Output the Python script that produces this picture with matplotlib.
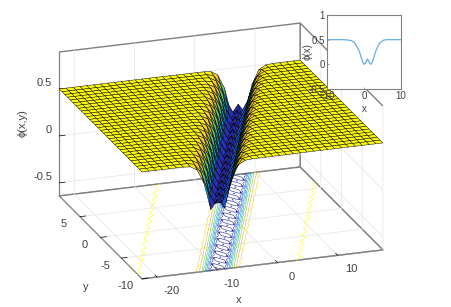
#!/usr/bin/env python3

import numpy as np
import matplotlib
matplotlib.use('Agg')
import matplotlib.pyplot as plt
from matplotlib.colors import LinearSegmentedColormap

plt.rcParams['font.family'] = ['Liberation Sans', 'DejaVu Sans']

# phi read across the trench, by distance in grid columns from its centre
# rows alternate: centre on a column, centre half way between two columns
phi_on_column = [0.11, 0.01, 0.30, 0.45, 0.492, 0.4975, 0.498, 0.4983, 0.4986,
                 0.4988, 0.499, 0.4994, 0.49965, 0.4998, 0.4999]
phi_off_column = [0.04, 0.17, 0.38, 0.48, 0.496, 0.4978, 0.4982, 0.4985, 0.4987,
                  0.4989, 0.4991, 0.4993, 0.4997, 0.4999]
phi_far = 0.5

n_cols = 36
n_rows = 31
x_range = (-22.5, 17.5)
y_range = (-10, 10)
z_range = (-0.64, 0.894)
first_centre = 11  # column of the trench centre in the y=-10 row

x_ticks = [-20, -10, 0, 10]
y_ticks = [-10, -5, 0, 5]
z_ticks = [-0.5, 0, 0.5]
x_tick_labels = ['-20', '-10', '0', '10']
y_tick_labels = ['-10', '-5', '0', '5']
z_tick_labels = ['-0.5', '0', '0.5']
contour_levels = [0.02, 0.05, 0.1, 0.15, 0.2, 0.25, 0.3, 0.35, 0.4, 0.45, 0.4995]

# inset curve
inset_x = [-10, -6, -4.5, -3.4, -2.6, -1.9, -1.2, -0.6, -0.2, 0.1, 0.5, 0.95, 1.4,
           1.8, 2.1, 2.5, 3.1, 3.8, 4.5, 5.3, 6.2, 8, 10]
inset_phi = [0.5, 0.5, 0.495, 0.48, 0.44, 0.36, 0.25, 0.1, 0.02, 0.0, 0.04, 0.11,
             0.04, 0.0, 0.02, 0.1, 0.25, 0.38, 0.45, 0.49, 0.5, 0.5, 0.5]

parula = LinearSegmentedColormap.from_list('parula', [
    (0.0, (0.13, 0.10, 0.42)), (0.18, (0.16, 0.20, 0.72)), (0.30, (0.08, 0.42, 0.88)),
    (0.42, (0.03, 0.62, 0.78)), (0.52, (0.10, 0.70, 0.64)), (0.62, (0.32, 0.75, 0.46)),
    (0.72, (0.62, 0.75, 0.28)), (0.82, (0.88, 0.73, 0.19)), (0.90, (0.99, 0.80, 0.16)),
    (0.96, (0.96, 0.90, 0.09)), (1.0, (1.0, 1.0, 0.0))])

TEXT = '#404040'
EDGE = '#808080'


def build_surface():
    x = np.linspace(x_range[0], x_range[1], n_cols)
    y = np.linspace(y_range[0], y_range[1], n_rows)
    z = np.full((n_rows, n_cols), phi_far)
    for k in range(n_rows):
        centre = first_centre + k / 2
        table = phi_off_column if k % 2 else phi_on_column
        for j in range(n_cols):
            i = int(abs(j - centre))
            if i < len(table):
                z[k, j] = table[i]
    X, Y = np.meshgrid(x, y)
    return X, Y, z


def style_axis(axis, ticks):
    axis.set_ticks(ticks)
    axis.set_tick_params(label1On=False)
    axis.set_pane_color((1, 1, 1, 1))
    axis.pane.set_edgecolor(EDGE)
    axis.line.set_color(EDGE)
    axis.line.set_linewidth(0.9)
    axis._axinfo['grid'].update(color='#e8e8e8', linewidth=0.6)
    axis._axinfo['tick'].update(inward_factor=0.0, outward_factor=0.3)
    axis._axinfo['tick']['linewidth'] = {True: 0.5, False: 0.5}
    axis._axinfo['tick']['color'] = EDGE


fig = plt.figure(figsize=(4.51, 3.07), dpi=100)
ax = fig.add_axes([67 / 451, 2 / 307, 300 / 451, 300 / 307], projection='3d')
ax.set_proj_type('ortho')
ax.view_init(elev=20.3, azim=-109.1)
ax.set_box_aspect((255, 253, 153.6), zoom=379 / 300)
ax.computed_zorder = False
ax.patch.set_alpha(0)

X, Y, Z = build_surface()
floor = ax.contour(X, Y, Z, levels=contour_levels, zdir='z', offset=z_range[0],
                   cmap=parula, vmin=0, vmax=0.5, linewidths=0.4, zorder=1)
surf = ax.plot_surface(X, Y, Z, cmap=parula, vmin=0, vmax=0.5, rstride=1, cstride=1,
                       edgecolor='k', linewidth=0.33, shade=False, zorder=2)
floor.set_clip_on(False)
surf.set_clip_on(False)

ax.set_xlim(*x_range)
ax.set_ylim(*y_range)
ax.set_zlim(*z_range)
style_axis(ax.xaxis, x_ticks)
style_axis(ax.yaxis, y_ticks)
style_axis(ax.zaxis, z_ticks)

# MATLAB puts the labels off the ticks in its own way, so place them in data space
label_style = dict(fontsize=8, color=TEXT, ha='center', va='center', zorder=5)
for t, s in zip(x_ticks, x_tick_labels):
    ax.text(t, y_range[0] - 3.4, z_range[0], s, **label_style)
for t, s in zip(y_ticks, y_tick_labels):
    ax.text(x_range[0] - 2.7, t, z_range[0] - 0.058, s, **label_style)
for t, s in zip(z_ticks, z_tick_labels):
    ax.text(x_range[0] - 1.2, y_range[1], t + 0.07, s, fontsize=8, color=TEXT,
            ha='right', va='center', zorder=5)
ax.text(-11.25, y_range[0] - 7, z_range[0], 'x', **label_style)
ax.text(x_range[0] - 9.47, y_range[0] - 0.27, z_range[0], 'y', **label_style)
ax.text(x_range[0] - 6.13, y_range[1], 0.185, '\u03d5(x,y)', zdir='z', **label_style)

inset = fig.add_axes([327 / 451, 1 - 89 / 307, 74 / 451, 74 / 307])
inset.plot(inset_x, inset_phi, color='#62b0e4', linewidth=0.9)
inset.set_xlim(-10, 10)
inset.set_ylim(-0.5, 1)
inset.set_xticks([-10, 0, 10])
inset.set_yticks([-0.5, 0, 0.5, 1])
inset.set_yticklabels(['-0.5', '0', '0.5', '1'])
inset.tick_params(labelsize=7, labelcolor=TEXT, color=EDGE, direction='in', length=1.5, width=0.5, pad=1.5)
inset.set_xlabel('x', fontsize=7, color=TEXT, labelpad=2)
inset.set_ylabel('\u03d5(x)', fontsize=7, color=TEXT, labelpad=-3)
for s in inset.spines.values():
    s.set_color(EDGE)
    s.set_linewidth(0.8)

fig.savefig('out.png', dpi=100)
